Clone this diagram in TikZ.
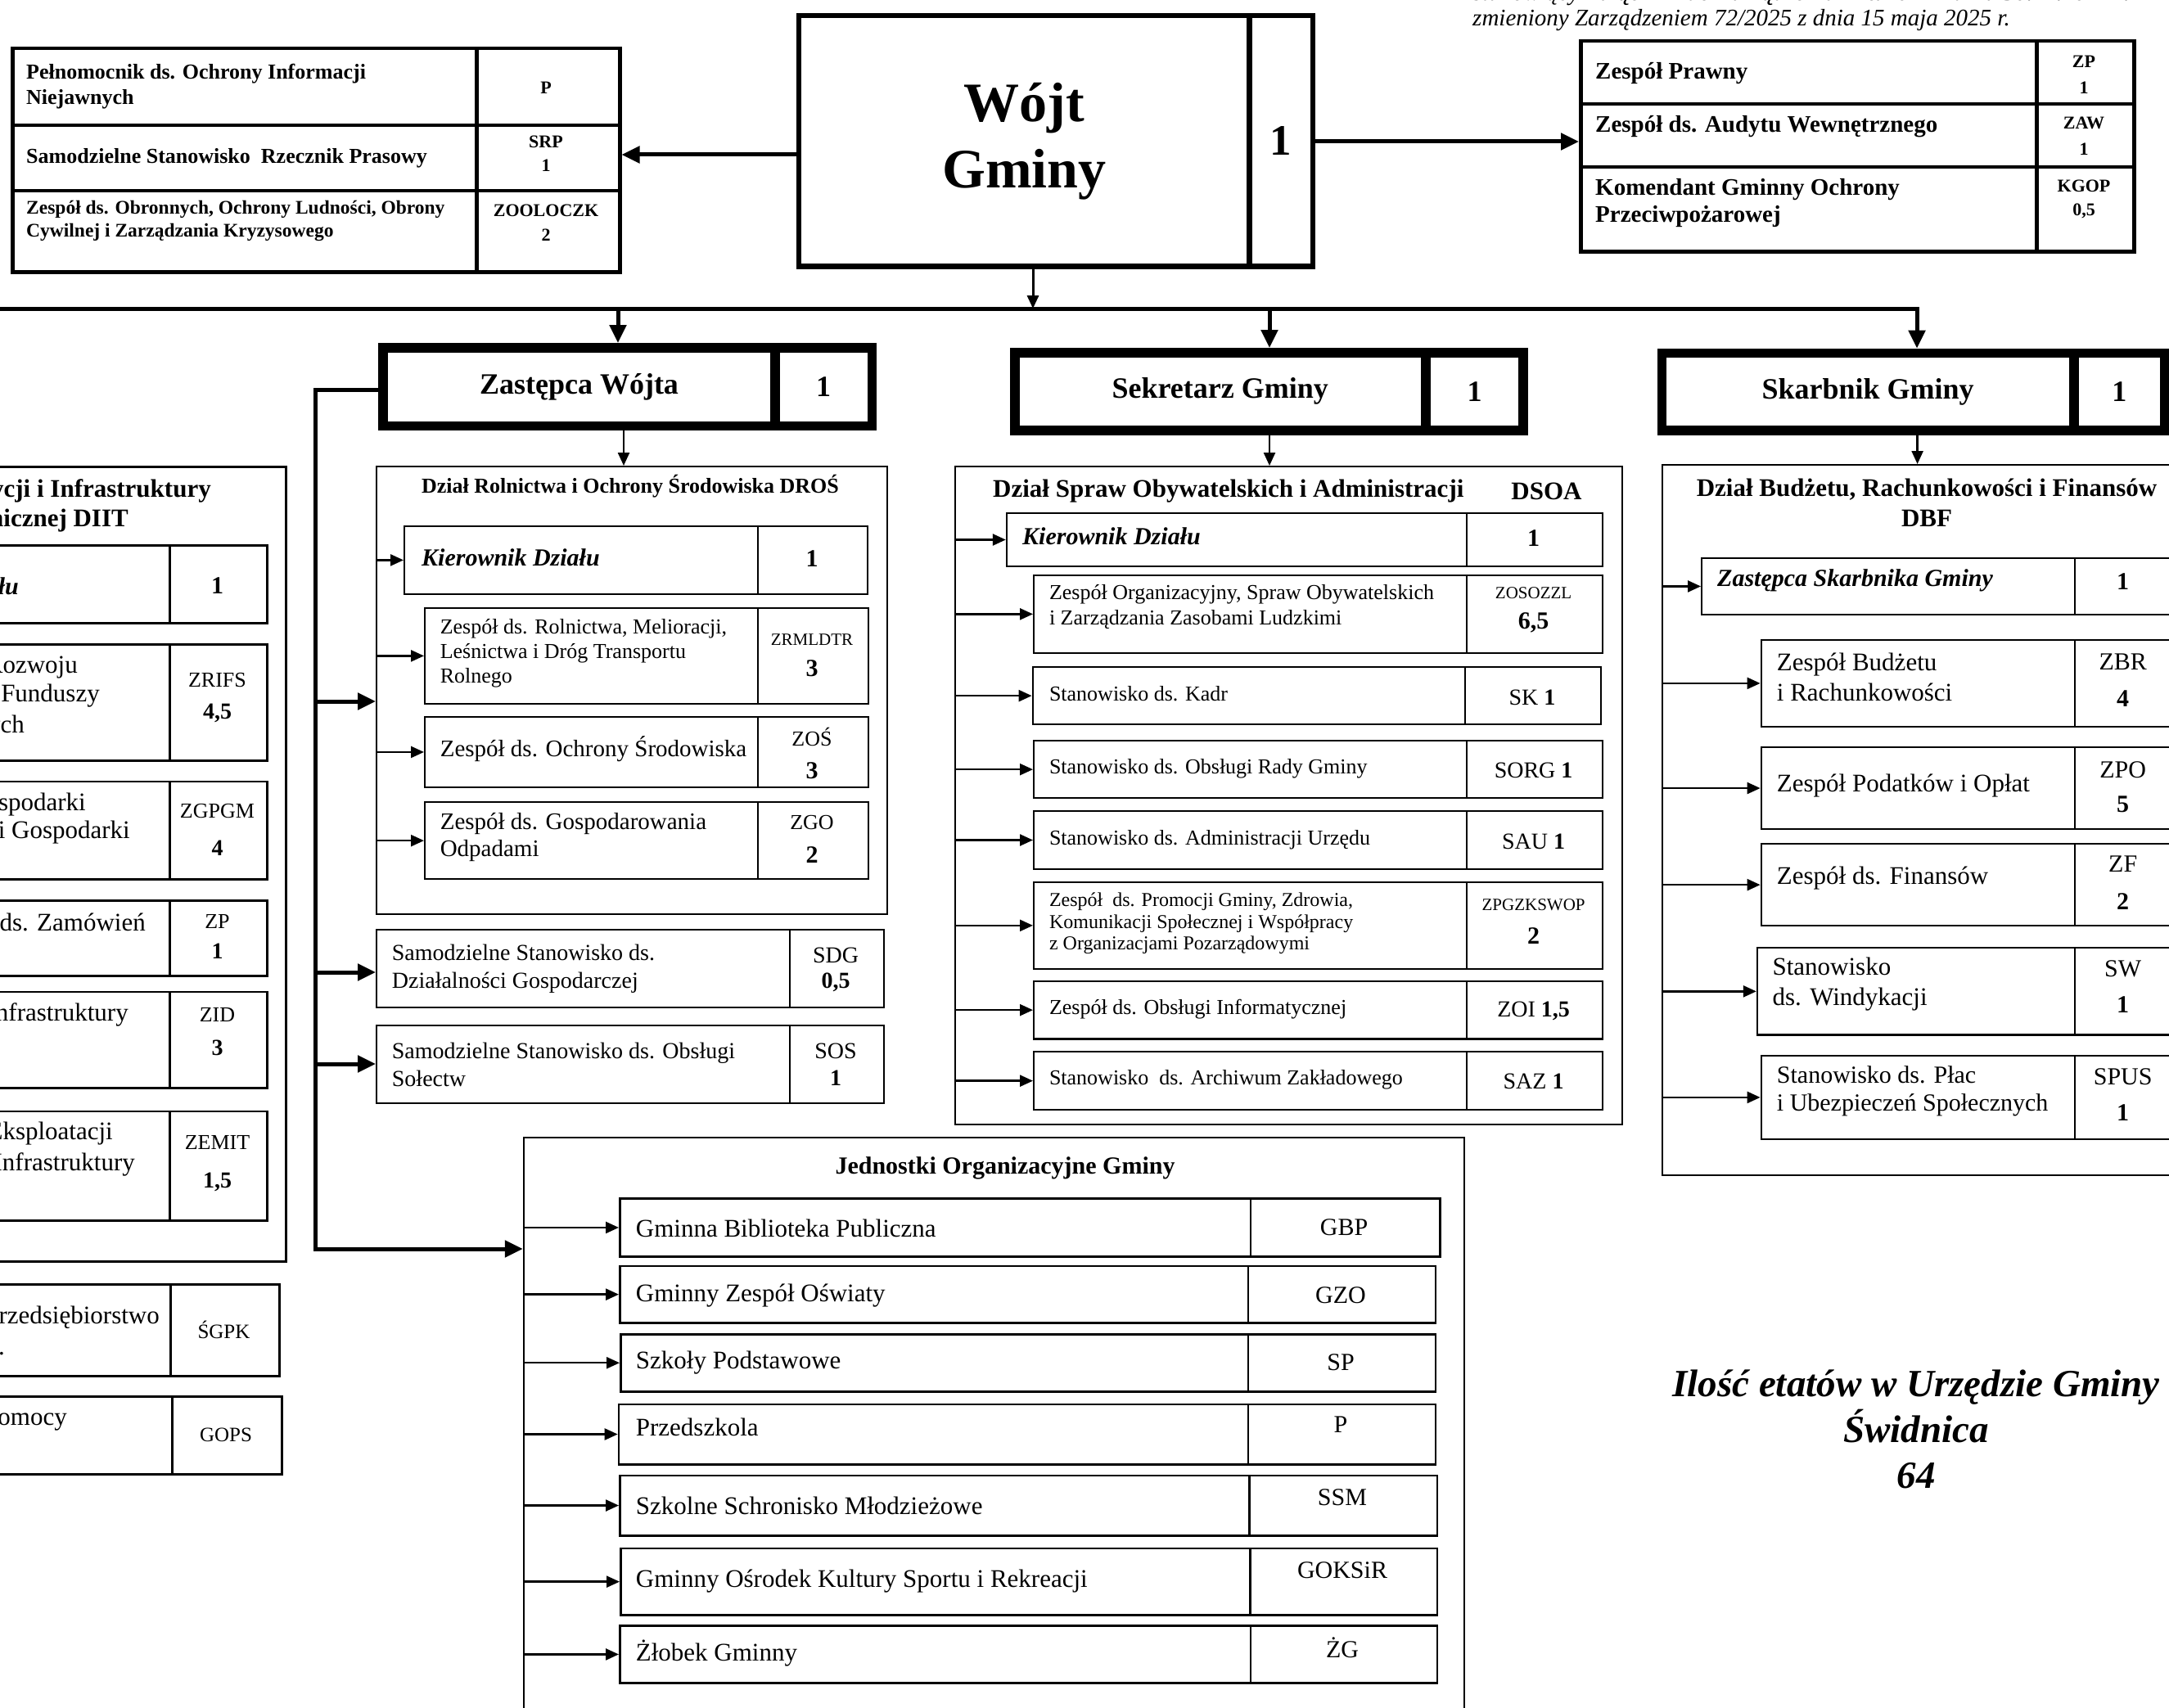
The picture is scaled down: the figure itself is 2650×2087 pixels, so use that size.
\documentclass[tikz,border=0pt]{standalone}
\usepackage{fontspec}
\setmainfont{Liberation Serif}
\usetikzlibrary{arrows.meta}
\newcommand\fz[2]{\fontsize{#1pt}{#2pt}\selectfont}
\newcommand\cellrow[7][]{%
  \node[cellbox,minimum width={(#5)-(#3)},minimum height={(#7)-(#4)},#1] (#2) at (#3,#4) {};%
  \node[cellbox,minimum width={(#6)-(#5)},minimum height={(#7)-(#4)},#1] (#2-c) at (#5,#4) {};}
\newcommand\txW[5][]{\node[txw,#1] (#2) at (#3,#4) {#5};}
\newcommand\txC[5][]{\node[txc,#1] (#2) at (#3,#4) {#5};}
\newcommand\txE[5][]{\node[txe,#1] (#2) at (#3,#4) {#5};}
\tikzset{
  cellbox/.style={draw, rectangle, inner sep=0pt, anchor=north west, line width=2.3pt},
  tblbox/.style={line width=4.5pt},
  hdrbox/.style={draw, rectangle, inner sep=0pt, anchor=north west, line width=11.5pt},
  txw/.style={anchor=west, align=left, inner sep=0pt},
  txc/.style={anchor=center, align=center, inner sep=0pt},
  txe/.style={anchor=east, align=right, inner sep=0pt},
  thinarr/.style={line width=2.4pt, -{Triangle[length=16pt,width=14pt]}},
  bigarr/.style={line width=5pt, -{Triangle[length=22pt,width=20pt]}},
  bigline/.style={line width=5pt},
}
\begin{document}
\begin{tikzpicture}[x=1pt,y=-1pt]
\fill[white] (0,0) rectangle (2650,2087);
\useasboundingbox (0,0) rectangle (2650,2087);

% ---------- note top right
\txW[font=\fz{29}{33}\itshape]{note1}{1799}{-6}{stanowiący \bfseries Załącznik do Zarządzenia 170/2024 z dnia 30.12.2024 r.}
\txW[font=\fz{29}{33}\itshape]{note2}{1799}{25}{zmieniony Zarządzeniem 72/2025 z dnia 15 maja 2025 r.}

% ---------- Wojt
\node[hdrbox,line width=6.4pt,minimum width=551,minimum height=306.2,font=\fz{68}{81}\bfseries,align=center] (wojt) at (972.6,16) {Wójt\\Gminy};
\node[hdrbox,line width=6.4pt,minimum width=77.6,minimum height=306.2,font=\fz{53}{60}\bfseries] (wojt-c) at (1523,16) {1};

% ---------- top-left table
\cellrow[tblbox]{tA}{13}{57}{580}{755}{151}
\cellrow[tblbox]{tB}{13}{151}{580}{755}{231}
\cellrow[tblbox]{tC}{13}{231}{580}{755}{330}
\txW[font=\fz{26}{31}\bfseries]{tAt}{32}{106}{Pełnomocnik ds. Ochrony Informacji\\Niejawnych}
\txW[font=\fz{26}{31}\bfseries]{tBt}{32}{193}{Samodzielne Stanowisko~ Rzecznik Prasowy}
\txW[font=\fz{23.5}{28}\bfseries]{tCt}{32}{270}{Zespół ds. Obronnych, Ochrony Ludności, Obrony\\Cywilnej i Zarządzania Kryzysowego}
\txC[font=\fz{22}{26}\bfseries]{tAk}{667}{107}{P}
\txC[font=\fz{22}{26}\bfseries]{tBk}{667}{173}{SRP}
\txC[font=\fz{22}{26}\bfseries]{tBn}{667}{202}{1}
\txC[font=\fz{22}{26}\bfseries]{tCk}{667}{257}{ZOOLOCZK}
\txC[font=\fz{22}{26}\bfseries]{tCn}{667}{287}{2}

% ---------- top-right table
\cellrow[tblbox]{rA}{1929}{48}{2486}{2605}{125}
\cellrow[tblbox]{rB}{1929}{125}{2486}{2605}{202}
\cellrow[tblbox]{rC}{1929}{202}{2486}{2605}{305}
\txW[font=\fz{29}{33}\bfseries]{rAt}{1949}{90}{Zespół Prawny}
\txW[font=\fz{29}{33}\bfseries]{rBt}{1949}{155}{Zespół ds. Audytu Wewnętrznego}
\txW[font=\fz{29}{33}\bfseries]{rCt}{1949}{248}{Komendant Gminny Ochrony\\Przeciwpożarowej}
\txC[font=\fz{22}{26}\bfseries]{rAk}{2546}{75}{ZP}
\txC[font=\fz{22}{26}\bfseries]{rAn}{2546}{107}{1}
\txC[font=\fz{22}{26}\bfseries]{rBk}{2546}{150}{ZAW}
\txC[font=\fz{22}{26}\bfseries]{rBn}{2546}{182}{1}
\txC[font=\fz{22}{26}\bfseries]{rCk}{2546}{227}{KGOP}
\txC[font=\fz{22}{26}\bfseries]{rCn}{2546}{258}{0,5}

% ---------- arrows from Wojt
\draw[bigarr] (wojt.west |- 0,189) -- (tB-c.east |- 0,189);
\draw[bigarr] (wojt-c.east |- 0,173) -- (rB.west |- 0,173);

% ---------- headers
\node[hdrbox,minimum width=479.5,minimum height=95.5,font=\fz{36}{40}\bfseries] (zw) at (462,419) {Zastępca Wójta};
\node[hdrbox,minimum width=118.5,minimum height=95.5,font=\fz{36}{40}\bfseries] (zw-c) at (941,419) {1};
\node[hdrbox,minimum width=502,minimum height=95.2,font=\fz{36}{40}\bfseries] (se) at (1234,425) {Sekretarz Gminy};
\node[hdrbox,minimum width=118.7,minimum height=95.2,font=\fz{36}{40}\bfseries] (se-c) at (1736.5,425) {1};
\node[hdrbox,minimum width=503.2,minimum height=94.6,font=\fz{36}{40}\bfseries] (sk) at (2024.8,425.7) {Skarbnik Gminy};
\node[hdrbox,minimum width=110,minimum height=94.6,font=\fz{36}{40}\bfseries] (sk-c) at (2528.5,425.7) {1};

% ---------- bar
\coordinate (barL) at (-20,377);
\coordinate (bW) at (1262,377);
\coordinate (bZ) at (755,377);
\coordinate (bS) at (1551,377);
\coordinate (bK) at (2342,377);
\draw[thinarr,line width=3pt] (wojt.south -| bW) -- (bW);
\draw[bigarr] (barL) -- (bK) -- (bK |- sk.north);
\draw[bigarr] (bZ) -- (bZ |- zw.north);
\draw[bigarr] (bS) -- (bS |- se.north);

% ---------- department boxes
\node[cellbox,minimum width=624,minimum height=547] (dros) at (459,569) {};
\node[cellbox,minimum width=814.5,minimum height=803.7] (dsoa) at (1166,569) {};
\node[cellbox,minimum width=700,minimum height=867.5] (dbf) at (2030,567) {};
\node[cellbox,minimum width=1149,minimum height=720] (jed) at (638.8,1389) {};
\node[cellbox,line width=2.7pt,minimum width=648,minimum height=971] (diit) at (-300,569) {};

\draw[thinarr] (zw.south -| 762,0) -- (dros.north -| 762,0);
\draw[thinarr] (se.south -| 1551,0) -- (dsoa.north -| 1551,0);
\draw[thinarr] (sk.south -| 2342.6,0) -- (dbf.north -| 2342.6,0);

% ---------- DROS
\txC[font=\fz{26}{30}\bfseries]{drost}{770}{594}{Dział Rolnictwa i Ochrony Środowiska DROŚ}
\cellrow{dk}{493}{642}{925}{1059}{724.5}
\cellrow{d1}{518}{741.5}{925}{1059.5}{859}
\cellrow{d2}{518}{874.6}{925}{1060}{961}
\cellrow{d3}{518}{979}{925}{1060}{1073}
\txW[font=\fz{30}{34}\bfseries\itshape]{dkt}{515}{681}{Kierownik Działu}
\txC[font=\fz{30}{34}\bfseries]{dkn}{992}{683}{1}
\txW[font=\fz{26}{30}]{d1t}{537.6}{798}{Zespół ds. Rolnictwa, Melioracji,\\Leśnictwa i Dróg Transportu\\Rolnego}
\txC[font=\fz{21}{24}]{d1k}{992}{782}{ZRMLDTR}
\txC[font=\fz{30}{34}\bfseries]{d1n}{992}{817}{3}
\txW[font=\fz{29}{33}]{d2t}{537.6}{915.6}{Zespół ds. Ochrony Środowiska}
\txC[font=\fz{26}{30}]{d2k}{992}{900}{ZOŚ}
\txC[font=\fz{30}{34}\bfseries]{d2n}{992}{941.5}{3}
\txW[font=\fz{29}{33}]{d3t}{537.6}{1023}{Zespół ds. Gospodarowania\\Odpadami}
\txC[font=\fz{26}{30}]{d3k}{992}{1005}{ZGO}
\txC[font=\fz{30}{34}\bfseries]{d3n}{992}{1045}{2}
\foreach \n in {dk,d1,d2,d3} \draw[thinarr] (dros.west |- \n.west) -- (\n.west);

% ---------- SDG / SOS
\cellrow{sdg}{459}{1135}{964}{1078.5}{1230}
\cellrow{sos}{459}{1251.7}{964}{1078.5}{1346.7}
\txW[font=\fz{28}{34}]{sdgt}{478.7}{1184}{Samodzielne Stanowisko ds.\\Działalności Gospodarczej}
\txC[font=\fz{28}{32}]{sdgk}{1021}{1167}{SDG}
\txC[font=\fz{28}{32}\bfseries]{sdgn}{1021}{1200}{0,5}
\txW[font=\fz{28}{34}]{sost}{478.7}{1300.5}{Samodzielne Stanowisko ds. Obsługi\\Sołectw}
\txC[font=\fz{28}{32}]{sosk}{1021}{1284}{SOS}
\txC[font=\fz{28}{32}\bfseries]{sosn}{1021}{1317}{1}

% ---------- Zastepca spine
\coordinate (zsA) at (385,476);
\coordinate (zs1) at (385,857);
\coordinate (zs2) at (385,1188);
\coordinate (zs3) at (385,1300);
\coordinate (zsB) at (385,1526);
\draw[bigarr] (zw.west |- zsA) -- (zsA) -- (zsB) -- (zsB -| jed.west);
\draw[bigarr] (zs1) -- (zs1 -| dros.west);
\draw[bigarr] (zs2) -- (zs2 -| sdg.west);
\draw[bigarr] (zs3) -- (zs3 -| sos.west);

% ---------- DSOA
\txW[font=\fz{31}{36}\bfseries]{dsoat}{1213}{600}{Dział Spraw Obywatelskich i Administracji}
\txC[font=\fz{31}{36}\bfseries]{dsoak}{1889.5}{600}{DSOA}
\cellrow{sk1}{1228.8}{625.7}{1791}{1956.7}{691}
\cellrow{s1}{1262}{701.7}{1791}{1956.7}{796.7}
\cellrow{s2}{1260.6}{814}{1789}{1955}{884}
\cellrow{s3}{1262}{904}{1791}{1956.7}{974}
\cellrow{s4}{1262}{990}{1791}{1956.7}{1060.7}
\cellrow{s5}{1262}{1076.7}{1791}{1956.7}{1182.7}
\cellrow{s6}{1262}{1197.7}{1791}{1956.7}{1268.3}
\cellrow{s7}{1262}{1284}{1791}{1956.7}{1355}
\txW[font=\fz{30}{34}\bfseries\itshape]{sk1t}{1249}{655}{Kierownik Działu}
\txC[font=\fz{30}{34}\bfseries]{sk1n}{1873.6}{658}{1}
\txW[font=\fz{26}{31}]{s1t}{1281.8}{742}{Zespół Organizacyjny, Spraw Obywatelskich\\i Zarządzania Zasobami Ludzkimi}
\txC[font=\fz{21}{24}]{s1k}{1873.6}{725}{ZOSOZZL}
\txC[font=\fz{30}{34}\bfseries]{s1n}{1873.6}{761}{6,5}
\txW[font=\fz{26}{31}]{s2t}{1281.8}{848}{Stanowisko ds. Kadr}
\txC[font=\fz{28}{32}]{s2k}{1872}{852.7}{SK \textbf{1}}
\txW[font=\fz{26}{31}]{s3t}{1281.8}{939.3}{Stanowisko ds. Obsługi Rady Gminy}
\txC[font=\fz{28}{32}]{s3k}{1873.6}{941.7}{SORG \textbf{1}}
\txW[font=\fz{26}{31}]{s4t}{1281.8}{1026}{Stanowisko ds. Administracji Urzędu}
\txC[font=\fz{28}{32}]{s4k}{1873.6}{1028}{SAU \textbf{1}}
\txW[font=\fz{24}{26.7}]{s5t}{1281.8}{1128.3}{Zespół~ ds. Promocji Gminy, Zdrowia,\\Komunikacji Społecznej i Współpracy\\z Organizacjami Pozarządowymi}
\txC[font=\fz{21}{24}]{s5k}{1873.6}{1106}{ZPGZKSWOP}
\txC[font=\fz{30}{34}\bfseries]{s5n}{1873.6}{1143.3}{2}
\txW[font=\fz{26}{31}]{s6t}{1281.8}{1233}{Zespół ds. Obsługi Informatycznej}
\txC[font=\fz{28}{32}]{s6k}{1873.6}{1235}{ZOI \textbf{1,5}}
\txW[font=\fz{26}{31}]{s7t}{1281.8}{1319}{Stanowisko~ ds. Archiwum Zakładowego}
\txC[font=\fz{28}{32}]{s7k}{1873.6}{1321}{SAZ \textbf{1}}
\foreach \n in {sk1,s1,s2,s3,s4,s5,s6,s7} \draw[thinarr] (dsoa.west |- \n.west) -- (\n.west);

% ---------- DBF
\txC[font=\fz{31}{37}\bfseries]{dbft}{2354}{614.5}{Dział Budżetu, Rachunkowości i Finansów\\DBF}
\cellrow{kz}{2078}{680.6}{2534}{2700}{750}
\cellrow{b1}{2150.6}{780.7}{2534}{2700}{886.8}
\cellrow{b2}{2150.6}{911.8}{2534}{2700}{1012}
\cellrow{b3}{2150.6}{1030}{2534}{2700}{1130}
\cellrow{b4}{2145.8}{1157}{2534}{2700}{1263.4}
\cellrow{b5}{2150.6}{1289}{2534}{2700}{1390.5}
\txW[font=\fz{30}{34}\bfseries\itshape]{kzt}{2098}{709.7}{Zastępca Skarbnika Gminy}
\txC[font=\fz{30}{34}\bfseries]{kzn}{2593.7}{711}{1}
\txW[font=\fz{31}{37}]{b1t}{2170.7}{827.5}{Zespół Budżetu\\i Rachunkowości}
\txC[font=\fz{30}{34}]{b1k}{2593.7}{809}{ZBR}
\txC[font=\fz{30}{34}\bfseries]{b1n}{2593.7}{854}{4}
\txW[font=\fz{31}{37}]{b2t}{2170.7}{960}{Zespół Podatków i Opłat}
\txC[font=\fz{30}{34}]{b2k}{2593.7}{941}{ZPO}
\txC[font=\fz{30}{34}\bfseries]{b2n}{2593.7}{983}{5}
\txW[font=\fz{31}{37}]{b3t}{2170.7}{1072.7}{Zespół ds. Finansów}
\txC[font=\fz{30}{34}]{b3k}{2593.7}{1056}{ZF}
\txC[font=\fz{30}{34}\bfseries]{b3n}{2593.7}{1102}{2}
\txW[font=\fz{31}{37}]{b4t}{2165.4}{1202.7}{Stanowisko\\ds. Windykacji}
\txC[font=\fz{30}{34}]{b4k}{2593.7}{1184}{SW}
\txC[font=\fz{30}{34}\bfseries]{b4n}{2593.7}{1228}{1}
\txW[font=\fz{30}{34}]{b5t}{2170.7}{1333}{Stanowisko ds. Płac\\i Ubezpieczeń Społecznych}
\txC[font=\fz{30}{34}]{b5k}{2593.7}{1316}{SPUS}
\txC[font=\fz{30}{34}\bfseries]{b5n}{2593.7}{1360}{1}
\foreach \n in {kz,b1,b2,b3,b4,b5} \draw[thinarr] (dbf.west |- \n.west) -- (\n.west);

% ---------- Jednostki
\txC[font=\fz{30}{34}\bfseries]{jedt}{1228}{1427}{Jednostki Organizacyjne Gminy}
\cellrow[line width=2.5pt]{j1}{756}{1463.4}{1526.5}{1758}{1534}
\cellrow[line width=2.5pt]{j2}{756}{1545.5}{1523.6}{1752.5}{1615.3}
\cellrow[line width=2.5pt]{j3}{757}{1629}{1523.6}{1752.5}{1699}
\cellrow[line width=2.5pt]{j4}{754.7}{1714.5}{1523.6}{1752.5}{1788}
\cellrow[line width=2.5pt]{j5}{756}{1801.5}{1525}{1754.7}{1875}
\cellrow[line width=2.5pt]{j6}{757}{1890.8}{1526}{1754.7}{1972}
\cellrow[line width=2.5pt]{j7}{756}{1985}{1526.5}{1754.7}{2055.4}
\txW[font=\fz{31}{36}]{j1t}{776.7}{1500.8}{Gminna Biblioteka Publiczna}
\txC[font=\fz{30}{34}]{j1k}{1642}{1500}{GBP}
\txW[font=\fz{31}{36}]{j2t}{776.7}{1583}{Gminny Zespół Oświaty}
\txC[font=\fz{30}{34}]{j2k}{1638}{1583}{GZO}
\txW[font=\fz{31}{36}]{j3t}{776.7}{1665}{Szkoły Podstawowe}
\txC[font=\fz{30}{34}]{j3k}{1638}{1665}{SP}
\txW[font=\fz{31}{36}]{j4t}{776.7}{1744}{Przedszkola}
\txC[font=\fz{30}{34}]{j4k}{1638}{1740.7}{P}
\txW[font=\fz{31}{36}]{j5t}{776.7}{1840}{Szkolne Schronisko Młodzieżowe}
\txC[font=\fz{30}{34}]{j5k}{1640}{1830}{SSM}
\txW[font=\fz{31}{36}]{j6t}{776.7}{1932}{Gminny Ośrodek Kultury Sportu i Rekreacji}
\txC[font=\fz{30}{34}]{j6k}{1640}{1918.8}{GOKSiR}
\txW[font=\fz{31}{36}]{j7t}{776.7}{2020}{Żłobek Gminny}
\txC[font=\fz{30}{34}]{j7k}{1640}{2013.5}{ŻG}
\foreach \n in {j1,j2,j3,j4,j5,j6,j7} \draw[thinarr] (jed.west |- \n.west) -- (\n.west);

% ---------- DIIT (cut at left edge)
\txE[font=\fz{31}{37}\bfseries]{diit1}{258}{600}{Dział Inwestycji i Infrastruktury}
\txE[font=\fz{31}{37}\bfseries]{diit2}{157}{636}{Technicznej DIIT}
\cellrow[line width=2.7pt]{ii0}{-280}{665}{206}{325}{760}
\cellrow[line width=2.7pt]{ii1}{-280}{786}{206}{325}{928}
\cellrow[line width=2.7pt]{ii2}{-280}{953.5}{206}{325}{1073}
\cellrow[line width=2.7pt]{ii3}{-280}{1099}{206}{325}{1191}
\cellrow[line width=2.7pt]{ii4}{-280}{1210.5}{206}{325}{1328}
\cellrow[line width=2.7pt]{ii5}{-280}{1356.5}{206}{325}{1490}
\cellrow[line width=2.7pt]{sg}{-300}{1568}{207}{340}{1680}
\cellrow[line width=2.7pt]{gops}{-300}{1705}{209}{343}{1800}
\txE[font=\fz{30}{34}\bfseries\itshape]{ii0t}{23}{716}{Kierownik Działu}
\txC[font=\fz{30}{34}\bfseries]{ii0n}{265.5}{716}{1}
\txE[font=\fz{31}{36}]{ii1a}{95}{815}{Zespół ds. Rozwoju}
\txE[font=\fz{31}{36}]{ii1b}{122}{850}{Inwestycji i Funduszy}
\txE[font=\fz{31}{36}]{ii1c}{30}{888}{Strukturalnych}
\txC[font=\fz{26}{30}]{ii1k}{265.5}{831}{ZRIFS}
\txC[font=\fz{28}{32}\bfseries]{ii1n}{265.5}{871}{4,5}
\txE[font=\fz{31}{36}]{ii2a}{105}{983}{Zespół ds. Gospodarki}
\txE[font=\fz{31}{36}]{ii2b}{159}{1017}{Przestrzennej i Gospodarki}
\txC[font=\fz{26}{30}]{ii2k}{265.5}{991}{ZGPGM}
\txC[font=\fz{28}{32}\bfseries]{ii2n}{265.5}{1036}{4}
\txE[font=\fz{31}{36}]{ii3a}{178}{1130}{Zespół ds. Zamówień}
\txC[font=\fz{26}{30}]{ii3k}{265.5}{1126}{ZP}
\txC[font=\fz{28}{32}\bfseries]{ii3n}{265.5}{1162}{1}
\txE[font=\fz{31}{36}]{ii4a}{157}{1240}{Zespół ds. Infrastruktury}
\txC[font=\fz{26}{30}]{ii4k}{265.5}{1240}{ZID}
\txC[font=\fz{28}{32}\bfseries]{ii4n}{265.5}{1280}{3}
\txE[font=\fz{31}{36}]{ii5a}{138}{1385}{Zespół ds. Eksploatacji}
\txE[font=\fz{31}{36}]{ii5b}{165}{1423}{Mienia i Infrastruktury}
\txC[font=\fz{26}{30}]{ii5k}{265.5}{1396}{ZEMIT}
\txC[font=\fz{28}{32}\bfseries]{ii5n}{265.5}{1444}{1,5}
\txE[font=\fz{31}{36}]{sga}{195}{1610}{Gminne Przedsiębiorstwo}
\txE[font=\fz{31}{36}]{sgb}{6}{1648}{Komunalne Sp. z o.o.}
\txC[font=\fz{25}{30}]{sgk}{273.5}{1625}{ŚGPK}
\txE[font=\fz{31}{36}]{gopsa}{82}{1734.5}{Gminny Ośrodek Pomocy}
\txC[font=\fz{25}{30}]{gopsk}{276}{1753}{GOPS}

% ---------- total
\txC[font=\fz{47}{56}\bfseries\itshape]{ilosc}{2341}{1746}{Ilość etatów w Urzędzie Gminy\\Świdnica\\64}
\end{tikzpicture}
\end{document}
